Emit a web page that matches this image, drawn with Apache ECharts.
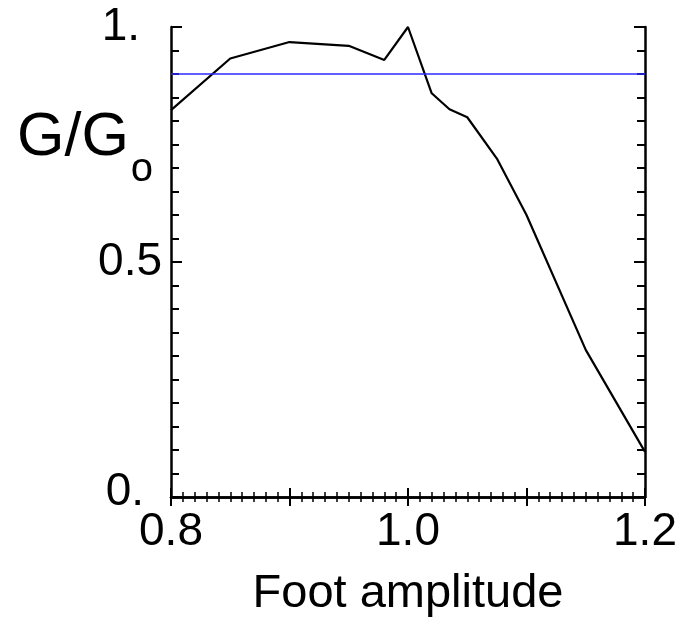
<!DOCTYPE html>
<html>
<head>
<meta charset="utf-8">
<script src="https://cdn.jsdelivr.net/npm/echarts@6/dist/echarts.min.js"></script>
<style>
  html, body { margin: 0; padding: 0; background: #fff; }
  #main { width: 684px; height: 619px; }
</style>
</head>
<body>
<div id="main"></div>
<script>
// foot amplitude vs normalised gain
const footAmp = [0.8, 0.85, 0.9, 0.95, 0.98, 1.0, 1.02, 1.035, 1.05, 1.075, 1.1, 1.15, 1.2];
const gain = [0.823, 0.933, 0.968, 0.960, 0.930, 1.0, 0.859, 0.825, 0.808, 0.72, 0.60, 0.313, 0.096];
const refLevel = 0.9;

const xTickLabels = ['0.8', '1.0', '1.2'];
const yTickValues = [0, 0.5, 1];
const yTickLabels = ['0.', '0.5', '1.'];

const FONT = 'Liberation Sans, Arial, sans-serif';

const chart = echarts.init(document.getElementById('main'));

function xLabel(v) {
  const s = v.toFixed(1);
  return xTickLabels.indexOf(s) >= 0 ? s : '';
}

function yLabel(v) {
  for (let i = 0; i < yTickValues.length; i++) {
    if (Math.abs(v - yTickValues[i]) < 1e-6) {
      const s = yTickLabels[i];
      // IDL style "0." / "1." sit a bit further left
      if (s.length === 2) return (v === 0 ? '{z|' : '{p|') + s + '}';
      return s;
    }
  }
  return '';
}

const axisLine = { show: true, lineStyle: { color: '#000', width: 2.5 } };

var option = {
  animation: false,
  backgroundColor: '#fff',
  title: {
    text: '{a|G/G}{b|o}',
    left: 12,
    top: 103,
    textStyle: {
      rich: {
        a: { fontFamily: FONT, fontSize: 61, fontWeight: 'normal', lineHeight: 61, color: '#000', verticalAlign: 'top' },
        b: { fontFamily: FONT, fontSize: 40, fontWeight: 'normal', lineHeight: 40, color: '#000', verticalAlign: 'top', padding: [42, 0, 0, 2] }
      }
    }
  },
  grid: { left: 171, right: 39, top: 27, bottom: 122, containLabel: false, outerBoundsMode: 'none' },
  xAxis: [
    {
      type: 'value',
      position: 'bottom',
      min: 0.8,
      max: 1.2,
      interval: 0.1,
      name: 'Foot amplitude',
      nameLocation: 'middle',
      nameGap: 74,
      nameTextStyle: { fontFamily: FONT, fontSize: 47, color: '#000' },
      axisLine: axisLine,
      axisTick: { show: true, inside: true, length: 9, lineStyle: { color: '#000', width: 2 } },
      minorTick: { show: true, splitNumber: 10, length: 5, lineStyle: { color: '#000', width: 1.5 } },
      axisLabel: { formatter: xLabel, margin: 12, fontFamily: FONT, fontSize: 46, color: '#000', showMinLabel: true, showMaxLabel: true },
      splitLine: { show: false }
    },
    {
      type: 'value',
      position: 'top',
      min: 0.8,
      max: 1.2,
      interval: 0.1,
      axisLine: axisLine,
      axisTick: { show: true, inside: true, length: 9, lineStyle: { color: '#000', width: 2 } },
      minorTick: { show: true, splitNumber: 10, length: 5, lineStyle: { color: '#000', width: 1.5 } },
      axisLabel: { show: false },
      splitLine: { show: false }
    }
  ],
  yAxis: [
    {
      type: 'value',
      position: 'left',
      min: 0,
      max: 1,
      interval: 0.5,
      axisLine: axisLine,
      axisTick: { show: true, inside: true, length: 11, lineStyle: { color: '#000', width: 2 } },
      minorTick: { show: true, splitNumber: 10, length: 8, lineStyle: { color: '#000', width: 2 } },
      axisLabel: {
        formatter: yLabel, margin: 9, fontFamily: FONT, fontSize: 46, color: '#000',
        showMinLabel: true, showMaxLabel: true,
        rich: {
          p: { fontFamily: FONT, fontSize: 46, color: '#000', padding: [0, 22, 0, 0] },
          z: { fontFamily: FONT, fontSize: 46, color: '#000', padding: [0, 18, 10, 0] }
        }
      },
      splitLine: { show: false }
    },
    {
      type: 'value',
      position: 'right',
      min: 0,
      max: 1,
      interval: 0.5,
      axisLine: axisLine,
      axisTick: { show: true, inside: true, length: 11, lineStyle: { color: '#000', width: 2 } },
      minorTick: { show: true, splitNumber: 10, length: 8, lineStyle: { color: '#000', width: 2 } },
      axisLabel: { show: false },
      splitLine: { show: false }
    }
  ],
  series: [
    {
      name: 'G/Go',
      type: 'line',
      data: footAmp.map((x, i) => [x, gain[i]]),
      showSymbol: false,
      clip: false,
      lineStyle: { color: '#000', width: 2.2 },
      markLine: {
        silent: true,
        symbol: 'none',
        label: { show: false },
        lineStyle: { color: '#2a2aff', width: 1.6, type: 'solid' },
        data: [{ yAxis: refLevel }]
      }
    }
  ]
};

chart.setOption(option);
</script>
</body>
</html>
